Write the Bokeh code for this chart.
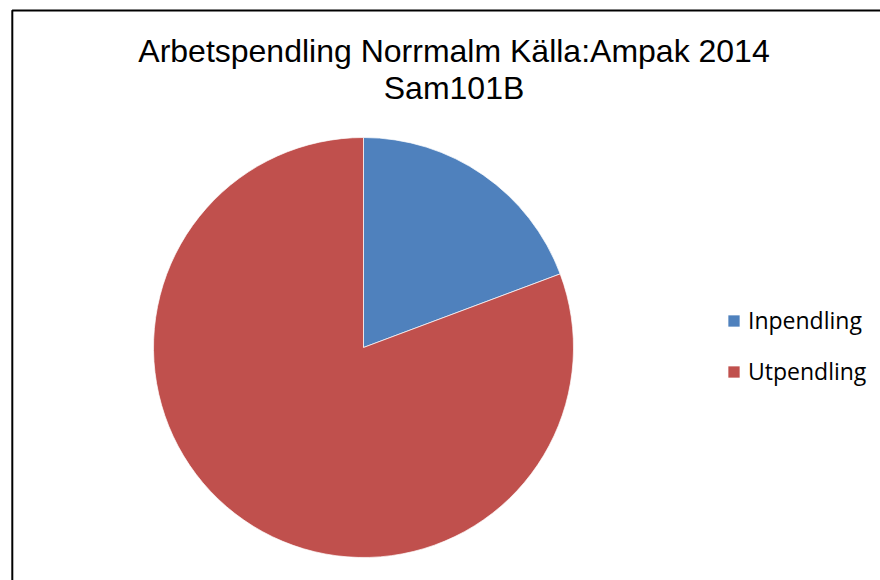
import math
from bokeh.plotting import figure
from bokeh.models import Range1d, Label, Legend, LegendItem, BoxAnnotation
from bokeh.embed import file_html
from bokeh.resources import INLINE

categories = ["Inpendling", "Utpendling"]
shares = [19.3, 80.7]
colors = ["#4F81BD", "#C0504D"]
title_lines = ["Arbetspendling Norrmalm Källa:Ampak 2014", "Sam101B"]

total = sum(shares)
starts, ends = [], []
acc = 0.0
for s in shares:
    starts.append(math.pi / 2 - 2 * math.pi * acc / total)
    acc += s
    ends.append(math.pi / 2 - 2 * math.pi * acc / total)

p = figure(width=880, height=580, output_backend="svg", toolbar_location=None,
           x_range=Range1d(-11, 869), y_range=Range1d(0, 580),
           min_border_left=0, min_border_top=0, min_border_right=0, min_border_bottom=0)
p.xaxis.visible = False
p.yaxis.visible = False
p.xgrid.visible = False
p.ygrid.visible = False
p.outline_line_color = None
p.background_fill_color = "white"
p.border_fill_color = "white"

# chart-area border (only its left and top edges fall inside the window)
p.add_layout(BoxAnnotation(left=0.8, top=570, right=900, bottom=-30,
                           fill_alpha=0, line_color="black", line_width=2,
                           line_alpha=1))

cx, cy = 352, 233
items = []
for cat, st, en, col in zip(categories, starts, ends, colors):
    r = p.wedge(x=[cx], y=[cy], radius=210, radius_units="screen",
                start_angle=[st], end_angle=[en], direction="clock",
                fill_color=col, line_color="white", line_width=0.7)
    items.append(LegendItem(label=cat, renderers=[r]))

for i, t in enumerate(title_lines):
    p.add_layout(Label(x=442.5, y=530 - 37 * i, text=t, text_align="center",
                       text_baseline="alphabetic", text_font="Liberation Sans",
                       text_font_size="32px", text_color="black"))

legend = Legend(items=items, location=(726, 193), orientation="vertical",
                label_text_font="Open Sans", label_text_font_size="23px",
                label_text_color="black", glyph_width=15, glyph_height=15,
                label_standoff=7, spacing=19, padding=0, margin=0,
                border_line_color=None, background_fill_alpha=0)
p.add_layout(legend)

open("out.html", "w").write(file_html(p, INLINE))
